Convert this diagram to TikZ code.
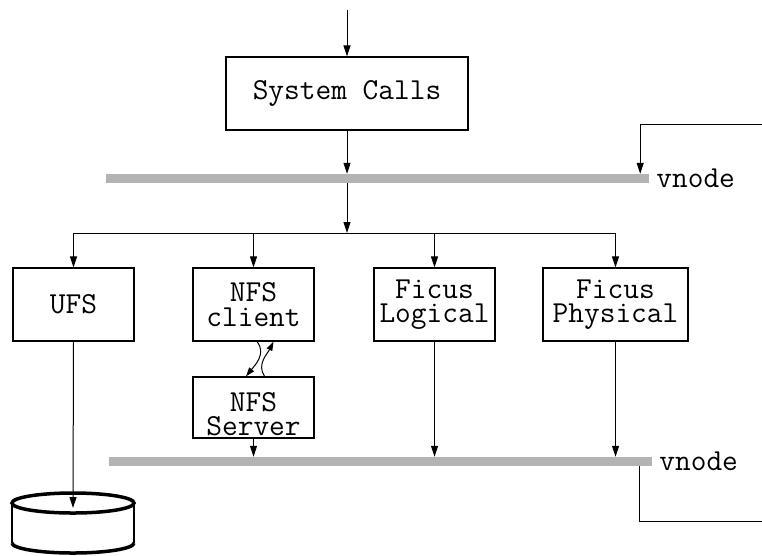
\documentclass[tikz,border=0pt]{standalone}
\usetikzlibrary{arrows.meta,calc}
\definecolor{bargray}{HTML}{B3B3B3}
\tikzset{
  box/.style={draw, line width=1.3pt, minimum width=121pt, minimum height=73pt,
    inner sep=0pt, align=center, font=\fontsize{30.5}{24.5}\selectfont\ttfamily},
  bar/.style={fill=bargray, minimum width=543pt, minimum height=9pt, inner sep=0pt},
  arr/.style={draw, line width=1pt, -{Triangle[length=11pt,width=7pt]}},
  wave/.style={draw, line width=1pt, -{Triangle[length=9pt,width=6pt]}},
  line/.style={draw, line width=1pt},
  lbl/.style={font=\fontsize{30.5}{24.5}\selectfont\ttfamily, inner sep=0pt, anchor=west},
  diskrim/.style={draw, line width=3.5pt},
  diskside/.style={draw, line width=1.8pt}
}
\begin{document}
\begin{tikzpicture}[x=1pt, y=-1pt]
  \useasboundingbox (0,0) rectangle (762,555);

  % boxes
  \node[box, minimum width=242pt] (sys) at (347,93.5) {System Calls};
  \node[box] (ufs) at (73.5,304.5) {UFS};
  \node[box] (client) at (253.5,304.5) {NFS\\client};
  \node[box] (logic) at (434.5,304.5) {Ficus\\Logical};
  \node[box, minimum width=145pt] (phys) at (615.5,304.5) {Ficus\\Physical};
  \node[box, minimum height=61pt] (server) at (253.5,407.5) {\rule{0pt}{32pt}NFS\\Server};

  % vnode layers
  \node[bar] (vtop) at (377.5,178.5) {};
  \node[bar] (vbot) at (380.5,461.5) {};
  \node[lbl] at ([xshift=7pt]vtop.east) {vnode};
  \node[lbl] at ([xshift=7pt]vbot.east) {vnode};

  \coordinate (entry) at (347,10);
  \coordinate (split) at (347,233);
  \coordinate (fbin) at (762,124);
  \coordinate (fbout) at (762,521);
  \coordinate (disktop) at (73,503);

  % calls down
  \draw[arr] (entry) -- (sys.north);
  \draw[arr] (sys.south) -- (sys |- vtop.north);
  \draw[arr] (sys |- vtop.south) -- (split);
  \draw[line] (split -| ufs) -- (split -| phys);
  \foreach \n in {ufs,client,logic,phys}
    \draw[arr] (split -| \n) -- (\n.north);

  % client <-> server
  \draw[wave] ([xshift=3.5pt]client.south) .. controls +(10,12) and +(8,-10) .. ([xshift=-7.5pt]server.north);
  \draw[wave] ([xshift=11pt]server.north) .. controls +(-8,-12) and +(-6,12) .. ([xshift=20pt]client.south);

  % to lower vnode
  \draw[arr] (server.south) -- (server |- vbot.north);
  \draw[arr] (logic.south) -- (logic |- vbot.north);
  \draw[arr] (phys.south) -- (phys |- vbot.north);

  % loop back
  \draw[arr] (fbin) -| ([xshift=-9pt]vtop.north east);
  \draw[line] ([xshift=-13pt]vbot.south east) |- (fbout);

  % disk
  \draw[diskside] (12,503) -- (12,543) (134,503) -- (134,543);
  \draw[diskrim] (disktop) ellipse [x radius=61, y radius=10];
  \draw[diskrim] (12,543) arc[start angle=180, end angle=0, x radius=61, y radius=10];
  \draw[arr] (ufs.south) -- ([yshift=-5pt]disktop);
\end{tikzpicture}
\end{document}
